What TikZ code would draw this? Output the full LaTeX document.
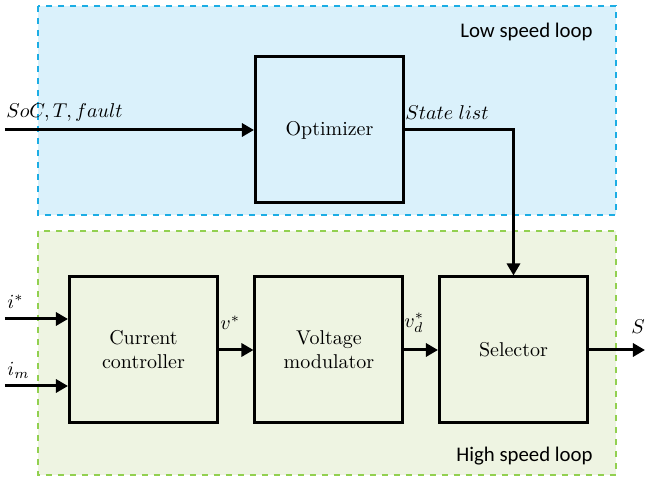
\documentclass[tikz,border=0pt]{standalone}
\usepackage{fontspec}
\newfontfamily\calibri{Carlito}
\usetikzlibrary{arrows.meta}
\definecolor{lowfill}{HTML}{DAF1FB}
\definecolor{lowline}{HTML}{1CADE4}
\definecolor{highfill}{HTML}{EEF4E2}
\definecolor{highline}{HTML}{92D050}
\tikzset{
	block/.style = {draw, line width=1.5pt, minimum width=74pt, minimum height=73pt, align=center, inner sep=2pt},
	sig/.style = {line width=1.5pt, -{Triangle[length=6pt,width=6.5pt]}},
	loopzone/.style = {dashed, line width=0.8pt},
	zonelabel/.style = {font=\calibri\fontsize{10.4}{12}\selectfont, anchor=east, inner sep=0pt},
}
\begin{document}
\begin{tikzpicture} [x = 0.5pt, y = -0.5pt]
	\useasboundingbox (0,0) rectangle (645,481);
	\draw [loopzone, draw = lowline, fill = lowfill] (38,6) rectangle (616,215);
	\draw [loopzone, draw = highline, fill = highfill] (38,231) rectangle (616,475);
	\node [zonelabel] (lowlbl) at (593,32) {Low speed loop};
	\node [zonelabel] (highlbl) at (593,456) {High speed loop};
	\node [block] (opt) at (329.5,130) {Optimizer};
	\node [block] (cc) at (143.5,350) {Current\\controller};
	\node [block] (vm) at (329,350) {Voltage\\modulator};
	\node [block] (sel) at (513.5,350) {Selector};
	\coordinate (meas) at (5,130);
	\coordinate (iref) at (5,319);
	\coordinate (imeas) at (5,386);
	\coordinate (out) at (645,350);
	\draw [sig] (meas) -- (opt.west);
	\node [anchor = west, inner sep = 0pt] (measlbl) at (6,113) {$SoC,T,fault$};
	\draw [sig] (opt.east) -| (sel.north);
	\node [anchor = west, inner sep = 0pt] (statelbl) at (405,113) {$State\;list$};
	\draw [sig] (iref) -- (iref -| cc.west);
	\draw [sig] (imeas) -- (imeas -| cc.west);
	\node [anchor = west, inner sep = 0pt] (ireflbl) at (7,302) {$i^*$};
	\node [anchor = west, inner sep = 0pt] (imeaslbl) at (7,370) {$i_m$};
	\draw [sig] (cc.east) -- (vm.west);
	\node [anchor = west, inner sep = 0pt] (vlbl) at (220,323) {$v^*$};
	\draw [sig] (vm.east) -- (sel.west);
	\node [anchor = west, inner sep = 0pt] (vdlbl) at (404,323) {$v_d^*$};
	\draw [sig] (sel.east) -- (out);
	\node [anchor = west, inner sep = 0pt] (slbl) at (631,327) {$S$};
\end{tikzpicture}
\end{document}
